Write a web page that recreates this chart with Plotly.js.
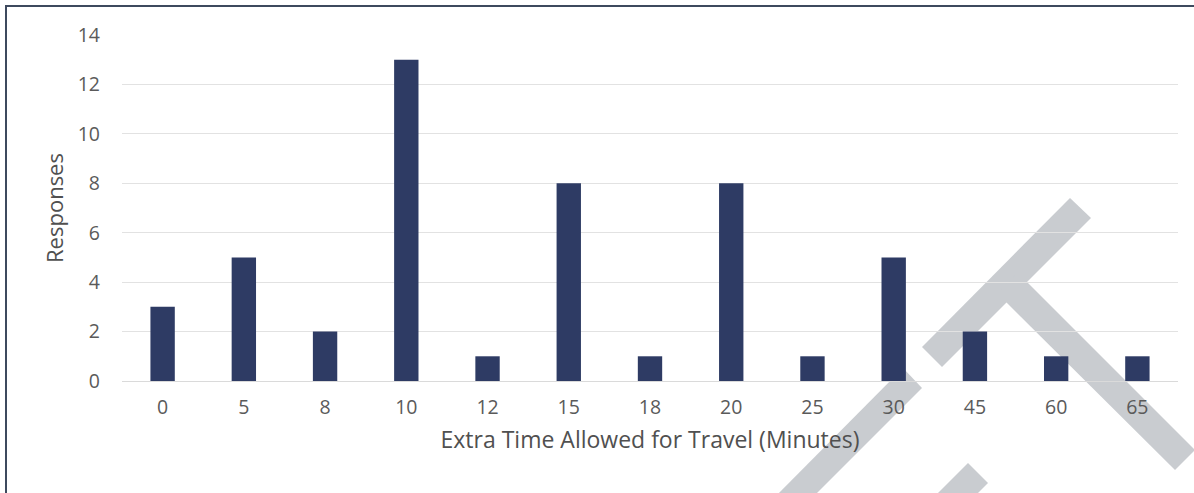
<!DOCTYPE html>
<html>
<head>
<meta charset="utf-8">
<script src="https://cdn.plot.ly/plotly-3.0.1.min.js"></script>
<style>
html,body{margin:0;padding:0;background:#fff;}
#chart{width:1194px;height:493px;}
</style>
</head>
<body>
<div id="chart"></div>
<script>
const categories = ["0","5","8","10","12","15","18","20","25","30","45","60","65"];
const responses = [3,5,2,13,1,8,1,8,1,5,2,1,1];
const yTicks = [0,2,4,6,8,10,12,14];

const W = 1194, H = 493;
const M = {l:122, r:16, t:35, b:112};
const pw = W - M.l - M.r, ph = H - M.t - M.b;
function px(X){ return (X - M.l) / pw; }
function py(Y){ return (H - M.b - Y) / ph; }
function poly(pts){
  return 'M' + pts.map(p => px(p[0]).toFixed(5) + ',' + py(p[1]).toFixed(5)).join(' L') + ' Z';
}

const bandColor = '#c9ccd0';
const shapes = [
  // scan watermark strokes
  {type:'path', xref:'paper', yref:'paper', layer:'below', line:{width:0}, fillcolor:bandColor,
   path: poly([[922,347],[1070,198],[1091,218],[942,367]])},
  {type:'path', xref:'paper', yref:'paper', layer:'below', line:{width:0}, fillcolor:bandColor,
   path: poly([[903,368],[922,388],[810,500],[772,500]])},
  {type:'path', xref:'paper', yref:'paper', layer:'below', line:{width:0}, fillcolor:bandColor,
   path: poly([[997,293],[1018,273],[1195,450],[1175,470]])},
  {type:'path', xref:'paper', yref:'paper', layer:'below', line:{width:0}, fillcolor:bandColor,
   path: poly([[968,463],[988,483],[971,500],[931,500]])},
  // frame
  {type:'line', xref:'paper', yref:'paper', layer:'above', line:{color:'#3e4a5e', width:2},
   x0:px(6), y0:py(6), x1:px(6), y1:py(500)},
  {type:'line', xref:'paper', yref:'paper', layer:'above', line:{color:'#3e4a5e', width:2},
   x0:px(5), y0:py(6), x1:px(1200), y1:py(6)}
];

const data = [{
  type:'bar',
  x: categories,
  y: responses,
  marker:{color:'#2e3b64'},
  hoverinfo:'x+y'
}];

const layout = {
  width:W, height:H,
  margin:M,
  paper_bgcolor:'rgba(0,0,0,0)',
  plot_bgcolor:'rgba(0,0,0,0)',
  bargap:0.7,
  showlegend:false,
  font:{family:'"Open Sans", Lato, sans-serif', color:'#595959', size:19},
  xaxis:{
    type:'category',
    tickvals: categories,
    ticktext: categories,
    showgrid:false,
    zeroline:false,
    showline:false,
    ticks:'',
    ticklabelstandoff:12,
    tickfont:{size:19.5, color:'#5a5a5a'},
    title:{text:'Extra Time Allowed for Travel (Minutes)', font:{size:23, color:'#505050'}, standoff:13},
    automargin:false
  },
  yaxis:{
    range:[0,14],
    tickvals: yTicks,
    showgrid:true,
    gridcolor:'#e2e2e2',
    gridwidth:1,
    zeroline:true,
    zerolinecolor:'#dadada',
    zerolinewidth:1,
    showline:false,
    ticks:'',
    ticklabelstandoff:21,
    tickfont:{size:19.5, color:'#5a5a5a'},
    title:{text:'Responses', font:{size:22, color:'#505050'}, standoff:7},
    automargin:false
  },
  shapes: shapes
};

Plotly.newPlot('chart', data, layout, {displayModeBar:false, staticPlot:true});
</script>
</body>
</html>
